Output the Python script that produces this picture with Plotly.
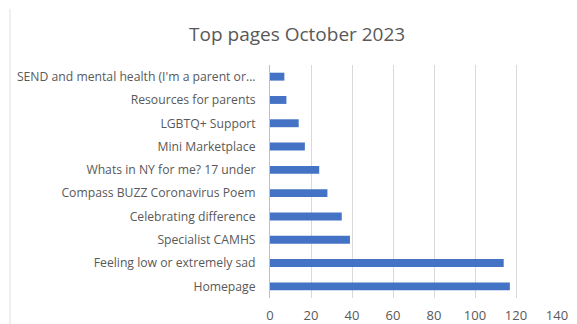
import plotly.graph_objects as go

pages = [
    "Homepage",
    "Feeling low or extremely sad",
    "Specialist CAMHS",
    "Celebrating difference",
    "Compass BUZZ Coronavirus Poem",
    "Whats in NY for me? 17 under",
    "Mini Marketplace",
    "LGBTQ+ Support",
    "Resources for parents",
    "SEND and mental health (I'm a parent or...",
]
views = [117, 114, 39, 35, 28, 24, 17, 14, 8, 7]
x_ticks = [0, 20, 40, 60, 80, 100, 120, 140]

FONT = "Open Sans"
GREY = "#595959"

fig = go.Figure(
    go.Bar(
        x=views,
        y=pages,
        orientation="h",
        marker=dict(color="#4472C4", line=dict(width=0)),
        width=0.34,
    )
)

fig.update_layout(
    width=577,
    height=324,
    margin=dict(l=270, r=20, t=65, b=26, autoexpand=False),
    paper_bgcolor="white",
    plot_bgcolor="white",
    showlegend=False,
    title=dict(
        text="Top pages October 2023",
        x=0.515,
        xanchor="center",
        y=0.895,
        yanchor="middle",
        font=dict(family=FONT, size=19, color=GREY),
    ),
)

fig.update_xaxes(
    range=[0, 140],
    tickvals=x_ticks,
    showgrid=True,
    gridcolor="#D9D9D9",
    gridwidth=1,
    zeroline=False,
    showline=False,
    ticks="",
    automargin=False,
    ticklabelstandoff=8,
    tickfont=dict(family=FONT, size=13, color=GREY),
)

fig.update_yaxes(
    categoryorder="array",
    categoryarray=pages,
    showline=True,
    linecolor="#BFBFBF",
    linewidth=1,
    ticks="",
    automargin=False,
    ticklabelstandoff=11,
    tickfont=dict(family=FONT, size=12.2, color=GREY),
)

# thin frame line along the left edge of the chart area
fig.add_shape(
    type="line",
    xref="paper",
    yref="paper",
    x0=-260 / 287,
    x1=-260 / 287,
    y0=-26 / 233,
    y1=(233 + 65 - 9) / 233,
    line=dict(color="#E0E0E0", width=1),
)

fig.write_html("out.html")
